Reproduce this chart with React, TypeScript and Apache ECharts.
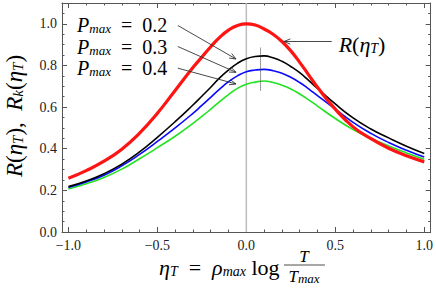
import React, { useEffect, useRef } from "react";
import * as echarts from "echarts";

// ---- data ----
const X_VALUES = [-1.0, -0.9, -0.8, -0.7, -0.6, -0.5, -0.4, -0.3, -0.25, -0.2, -0.15, -0.1, -0.05, 0.0, 0.05, 0.1, 0.15, 0.2, 0.25, 0.3, 0.35, 0.4, 0.5, 0.6, 0.7, 0.8, 0.9, 1.0];
const R_VALUES = [0.258, 0.295, 0.34, 0.398, 0.475, 0.57, 0.68, 0.79, 0.84, 0.89, 0.935, 0.97, 0.992, 1.0, 0.994, 0.975, 0.95, 0.915, 0.87, 0.815, 0.755, 0.695, 0.59, 0.505, 0.448, 0.402, 0.366, 0.337];
const RK_P02 = [0.218, 0.245, 0.28, 0.326, 0.385, 0.455, 0.53, 0.61, 0.652, 0.695, 0.74, 0.778, 0.81, 0.832, 0.843, 0.846, 0.837, 0.82, 0.795, 0.765, 0.728, 0.69, 0.615, 0.548, 0.495, 0.452, 0.412, 0.377];
const RK_P03 = [0.214, 0.24, 0.273, 0.318, 0.373, 0.435, 0.5, 0.57, 0.608, 0.647, 0.686, 0.722, 0.75, 0.77, 0.778, 0.781, 0.775, 0.763, 0.743, 0.718, 0.688, 0.655, 0.59, 0.527, 0.474, 0.43, 0.393, 0.36];
const RK_P04 = [0.207, 0.232, 0.262, 0.302, 0.352, 0.405, 0.46, 0.522, 0.555, 0.59, 0.626, 0.66, 0.69, 0.71, 0.72, 0.725, 0.718, 0.705, 0.687, 0.663, 0.635, 0.605, 0.545, 0.492, 0.45, 0.413, 0.38, 0.35];
const PEAK_MARK = [[0.08, 0.68], [0.08, 0.885]];
const ZERO_LINE = [[0, 0], [0, 1.1]];

const X_MAJOR_TICKS = [-1.0, -0.5, 0.0, 0.5, 1.0];
const X_MINOR_TICKS = [-1.0, -0.9, -0.8, -0.7, -0.6, -0.5, -0.4, -0.3, -0.2, -0.1, 0.0, 0.1, 0.2, 0.3, 0.4, 0.5, 0.6, 0.7, 0.8, 0.9, 1.0];
const Y_MAJOR_TICKS = [0.0, 0.2, 0.4, 0.6, 0.8, 1.0];
const Y_MINOR_TICKS = [0.0, 0.05, 0.1, 0.15, 0.2, 0.25, 0.3, 0.35, 0.4, 0.45, 0.5, 0.55, 0.6, 0.65, 0.7, 0.75, 0.8, 0.85, 0.9, 0.95, 1.0, 1.05];

const P_LABELS = ["0.2", "0.3", "0.4"];
const P_LABEL_POS = [[-0.951, 0.995], [-0.951, 0.889], [-0.951, 0.788]];
const P_ARROWS = [
  [[-0.385, 0.992], [-0.058, 0.831]],
  [[-0.385, 0.891], [-0.058, 0.767]],
  [[-0.385, 0.787], [-0.058, 0.711]],
];
const R_LABEL_POS = [0.519, 0.899];
const R_ARROW = [[0.48, 0.915], [0.211, 0.915]];

const SERIF = "Liberation Serif";
const INK = "#222";
const FRAME = "#555";
const SP = "\u2002";

const zip = (xs: number[], ys: number[]) => xs.map((x, i) => [x, ys[i]]);

const rich = (size: number, sub: number) => ({
  i: { fontFamily: SERIF, fontStyle: "italic", fontSize: size, lineHeight: size, color: INK },
  n: { fontFamily: SERIF, fontSize: size, lineHeight: size, color: INK },
  s: { fontFamily: SERIF, fontStyle: "italic", fontSize: sub, lineHeight: sub, verticalAlign: "bottom", color: INK },
});

const fmt = (v: number) => v.toFixed(1).replace("-", "\u2212");

export default function App() {
  const ref = useRef<HTMLDivElement>(null);
  useEffect(() => {
    if (!ref.current) return;
    const chart = echarts.init(ref.current, null, { renderer: "svg" });
    const X_MIN = -1.036, X_MAX = 1.036, Y_MIN = 0, Y_MAX = 1.1;
    const xBase = { type: "value", min: X_MIN, max: X_MAX, splitLine: { show: false } };
    const yBase = { type: "value", min: Y_MIN, max: Y_MAX, splitLine: { show: false } };
    const tickStyle = { color: FRAME, width: 1 };
    const lineOpt = { show: true, onZero: false, lineStyle: { color: FRAME, width: 1 } };
    const noLine = { show: false, onZero: false };
    const labelOpt = { fontFamily: SERIF, fontSize: 14, color: INK, formatter: fmt };

    const line = (data: number[][], color: string, width: number, z: number, type = "solid", smooth: any = 0.5) => ({
      type: "line",
      data,
      showSymbol: false,
      symbol: "none",
      smooth,
      lineStyle: { color, width, type },
      itemStyle: { color },
      z,
      silent: true,
    });

    const option: any = {
      animation: false,
      grid: { left: 62, right: 3, top: 3, bottom: 58 },
      xAxis: [
        { ...xBase, position: "bottom", axisLine: lineOpt, axisTick: { inside: true, length: 5, customValues: X_MAJOR_TICKS, lineStyle: tickStyle }, axisLabel: { ...labelOpt, margin: 6, customValues: X_MAJOR_TICKS } },
        { ...xBase, position: "bottom", axisLine: noLine, axisTick: { inside: true, length: 2.5, customValues: X_MINOR_TICKS, lineStyle: tickStyle }, axisLabel: { show: false } },
        { ...xBase, position: "top", axisLine: lineOpt, axisTick: { inside: true, length: 5, customValues: X_MAJOR_TICKS, lineStyle: tickStyle }, axisLabel: { show: false } },
        { ...xBase, position: "top", axisLine: noLine, axisTick: { inside: true, length: 2.5, customValues: X_MINOR_TICKS, lineStyle: tickStyle }, axisLabel: { show: false } },
      ],
      yAxis: [
        { ...yBase, position: "left", axisLine: lineOpt, axisTick: { inside: true, length: 5, customValues: Y_MAJOR_TICKS, lineStyle: tickStyle }, axisLabel: { ...labelOpt, margin: 5, customValues: Y_MAJOR_TICKS } },
        { ...yBase, position: "left", axisLine: noLine, axisTick: { inside: true, length: 2.5, customValues: Y_MINOR_TICKS, lineStyle: tickStyle }, axisLabel: { show: false } },
        { ...yBase, position: "right", axisLine: lineOpt, axisTick: { inside: true, length: 5, customValues: Y_MAJOR_TICKS, lineStyle: tickStyle }, axisLabel: { show: false } },
        { ...yBase, position: "right", axisLine: noLine, axisTick: { inside: true, length: 2.5, customValues: Y_MINOR_TICKS, lineStyle: tickStyle }, axisLabel: { show: false } },
      ],
      series: [
        line(ZERO_LINE, "#bdbdbd", 1.5, 1, "solid", false),
        line(zip(X_VALUES, RK_P04), "#22e322", 1.6, 2),
        line(zip(X_VALUES, RK_P03), "#0a0aff", 1.6, 3),
        line(zip(X_VALUES, RK_P02), "#000000", 1.6, 4),
        line(zip(X_VALUES, R_VALUES), "#ff1414", 3.2, 5),
        line(PEAK_MARK, "#333", 1, 6, "dotted", false),
      ],
    };
    chart.setOption(option);

    const px = (p: number[]) => chart.convertToPixel({ seriesIndex: 1 }, p) as number[];
    const arrow = (a: number[], b: number[]) => {
      const [x1, y1] = px(a);
      const [x2, y2] = px(b);
      const ang = Math.atan2(y2 - y1, x2 - x1);
      const h = 7, sp = 0.38;
      return [
        { type: "line", shape: { x1, y1, x2, y2 }, style: { stroke: "#333", lineWidth: 0.9 }, z: 20 },
        {
          type: "polyline",
          shape: { points: [[x2 - h * Math.cos(ang - sp), y2 - h * Math.sin(ang - sp)], [x2, y2], [x2 - h * Math.cos(ang + sp), y2 - h * Math.sin(ang + sp)]] },
          style: { stroke: "#333", lineWidth: 0.9, fill: null },
          z: 20,
        },
      ];
    };
    const graphics: any[] = [];
    P_LABELS.forEach((lab, i) => {
      const [x, y] = px(P_LABEL_POS[i]);
      graphics.push({
        type: "text", x, y, z: 20,
        style: { text: `{i|P}{s|max}{n|${SP}=${SP}${lab}}`, rich: rich(20, 13), align: "left", verticalAlign: "middle" },
      });
      graphics.push(...arrow(P_ARROWS[i][0], P_ARROWS[i][1]));
    });
    {
      const [x, y] = px(R_LABEL_POS);
      graphics.push({ type: "text", x, y, z: 20, style: { text: "{i|R}{n|(}{i|η}{s|T}{n|)}", rich: rich(22, 14), align: "left", verticalAlign: "middle" } });
      graphics.push(...arrow(R_ARROW[0], R_ARROW[1]));
    }
    // y axis title
    graphics.push({
      type: "text", x: 14, y: 116, rotation: Math.PI / 2, z: 20,
      style: { text: `{i|R}{n|(}{i|η}{s|T}{n|),${SP}}{i|R}{s|k}{n|(}{i|η}{s|T}{n|)}`, rich: rich(23, 15), align: "center", verticalAlign: "middle" },
    });
    // x axis title
    graphics.push({
      type: "text", x: 159, y: 267, z: 20,
      style: { text: `{i|η}{s|T}{n|${SP}=${SP}}{i|ρ}{s|max}{n| log}`, rich: rich(22, 14), align: "left", verticalAlign: "middle" },
    });
    graphics.push({ type: "text", x: 304, y: 256, z: 20, style: { text: "{i|T}", rich: rich(17, 12), align: "center", verticalAlign: "middle" } });
    graphics.push({ type: "line", shape: { x1: 284, y1: 265, x2: 325, y2: 265 }, style: { stroke: INK, lineWidth: 0.8 }, z: 20 });
    graphics.push({ type: "text", x: 304, y: 276, z: 20, style: { text: "{i|T}{s|max}", rich: rich(17, 13), align: "center", verticalAlign: "middle" } });

    chart.setOption({ graphic: graphics });
    return () => chart.dispose();
  }, []);
  return <div ref={ref} style={{ position: "fixed", left: 0, top: 0, width: 436, height: 290, background: "#fff" }} />;
}
